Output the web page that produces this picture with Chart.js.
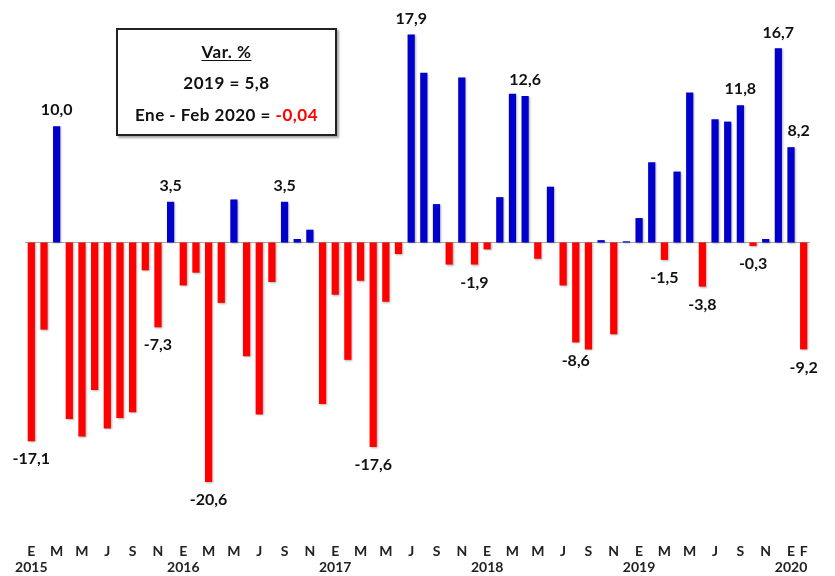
<!DOCTYPE html>
<html>
<head>
<meta charset="utf-8">
<script src="https://cdn.jsdelivr.net/npm/chart.js@4"></script>
<style>
  html, body { margin: 0; padding: 0; background: #fff; }
  #wrap { position: relative; width: 835px; height: 576px; }
  #box {
    position: absolute; left: 116px; top: 28px; width: 217px; height: 104px;
    border: 2px solid #222; background: #fff;
    box-shadow: 2px 2px 2px rgba(0,0,0,0.35);
    font-family: Lato, "DejaVu Sans", sans-serif; font-weight: bold; font-size: 17px;
    letter-spacing: 0.5px; line-height: 20px;
    color: #111; text-align: center;
  }
  #box div { position: absolute; left: 0; right: 0; }
  #box .l1 { top: 12px; }
  #box .l1 span { text-decoration: underline; text-underline-offset: 2px; }
  #box .l2 { top: 43px; }
  #box .l3 { top: 75px; }
  #box .neg { color: #ff0000; }
</style>
</head>
<body>
<div id="wrap">
  <canvas id="c" width="835" height="576"></canvas>
  <div id="box">
    <div class="l1"><span>Var. %</span></div>
    <div class="l2">2019 = 5,8</div>
    <div class="l3">Ene - Feb 2020 = <span class="neg">-0,04</span></div>
  </div>
</div>
<script>
// ---- data ----
const years = [2015, 2016, 2017, 2018, 2019, 2020];
const monthLetters = ['E','F','M','A','M','J','J','A','S','O','N','D'];
const v2015 = [-17.1, -7.5, 10.0, -15.2, -16.7, -12.7, -16.0, -15.1, -14.6, -2.4, -7.3, 3.5];
const v2016 = [-3.7, -2.6, -20.6, -5.2, 3.7, -9.8, -14.8, -3.4, 3.5, 0.3, 1.1, -13.9];
const v2017 = [-4.5, -10.1, -3.3, -17.6, -5.1, -1.0, 17.9, 14.6, 3.3, -1.9, 14.2, -1.9];
const v2018 = [-0.6, 3.9, 12.8, 12.6, -1.4, 4.8, -3.7, -8.6, -9.2, 0.2, -7.9, 0.1];
const v2019 = [2.1, 6.9, -1.5, 6.1, 12.9, -3.8, 10.6, 10.4, 11.8, -0.3, 0.3, 16.7];
const v2020 = [8.2, -9.2];
// indices of bars that carry a value label
const labelledIdx = [0, 2, 10, 11, 14, 20, 27, 30, 35, 39, 43, 50, 53, 56, 57, 59, 60, 61];

const values = [].concat(v2015, v2016, v2017, v2018, v2019, v2020);
const categories = values.map((v, i) => monthLetters[i % 12] + ' ' + years[Math.floor(i / 12)]);

const BLUE = '#0000cc', RED = '#ff0000';
const FONT = 'Lato, "DejaVu Sans", sans-serif';

const zeroLine = {
  id: 'zeroLine',
  beforeDatasetsDraw(chart) {
    const { ctx, chartArea, scales } = chart;
    const y = Math.round(scales.y.getPixelForValue(0)) + 0.5;
    ctx.save();
    ctx.strokeStyle = '#a8a8a8';
    ctx.lineWidth = 1;
    ctx.beginPath();
    ctx.moveTo(chartArea.left, y);
    ctx.lineTo(chartArea.right, y);
    ctx.stroke();
    ctx.restore();
  }
};

const barShadow = {
  id: 'barShadow',
  beforeDatasetDraw(chart) {
    const ctx = chart.ctx;
    ctx.save();
    ctx.shadowColor = 'rgba(0,0,0,0.3)';
    ctx.shadowBlur = 2;
    ctx.shadowOffsetX = 1;
    ctx.shadowOffsetY = 1;
  },
  afterDatasetDraw(chart) { chart.ctx.restore(); }
};

const valueLabels = {
  id: 'valueLabels',
  afterDatasetsDraw(chart) {
    const { ctx } = chart;
    const meta = chart.getDatasetMeta(0);
    ctx.save();
    ctx.font = 'bold 16px ' + FONT;
    ctx.fillStyle = '#111';
    ctx.textBaseline = 'middle';
    ctx.textAlign = 'left';
    labelledIdx.forEach(i => {
      const el = meta.data[i];
      const v = values[i];
      const txt = v.toFixed(1).replace('.', ',');
      const y = v >= 0 ? el.y - 16 : el.y + 18;
      const w = ctx.measureText(txt).width;
      let x = el.x - w / 2;
      // avoid running into a taller neighbouring bar on the left
      const prev = meta.data[i - 1];
      if (v >= 0 && prev && prev.y < y + 8 && x < prev.x + prev.width / 2 + 1) {
        x = el.x - el.width / 2;
      }
      ctx.fillText(txt, x, y);
    });
    ctx.restore();
  }
};

new Chart(document.getElementById('c'), {
  type: 'bar',
  data: {
    labels: categories,
    datasets: [{
      data: values,
      backgroundColor: values.map(v => v >= 0 ? BLUE : RED),
      borderWidth: 0,
      categoryPercentage: 1,
      barPercentage: 0.57
    }]
  },
  options: {
    responsive: false,
    animation: false,
    layout: { padding: { left: 25, right: 25, top: 10, bottom: 0 } },
    plugins: { legend: { display: false }, tooltip: { enabled: false } },
    scales: {
      y: { display: false, min: -25.6, max: 20 },
      x: {
        grid: { display: false, drawTicks: false },
        border: { display: false },
        afterFit: (scale) => { scale.height = 36; },
        ticks: {
          autoSkip: false, maxRotation: 0, minRotation: 0, padding: 3,
          color: '#222',
          font: { family: FONT, weight: 'bold', size: 14, lineHeight: 1.15 },
          callback: function (value, index) {
            const m = index % 12;
            const yr = years[Math.floor(index / 12)];
            const show = (m % 2 === 0) || yr === 2020;
            return [show ? monthLetters[m] : '', m === 0 ? String(yr) : ''];
          }
        }
      }
    }
  },
  plugins: [zeroLine, barShadow, valueLabels]
});
</script>
</body>
</html>
